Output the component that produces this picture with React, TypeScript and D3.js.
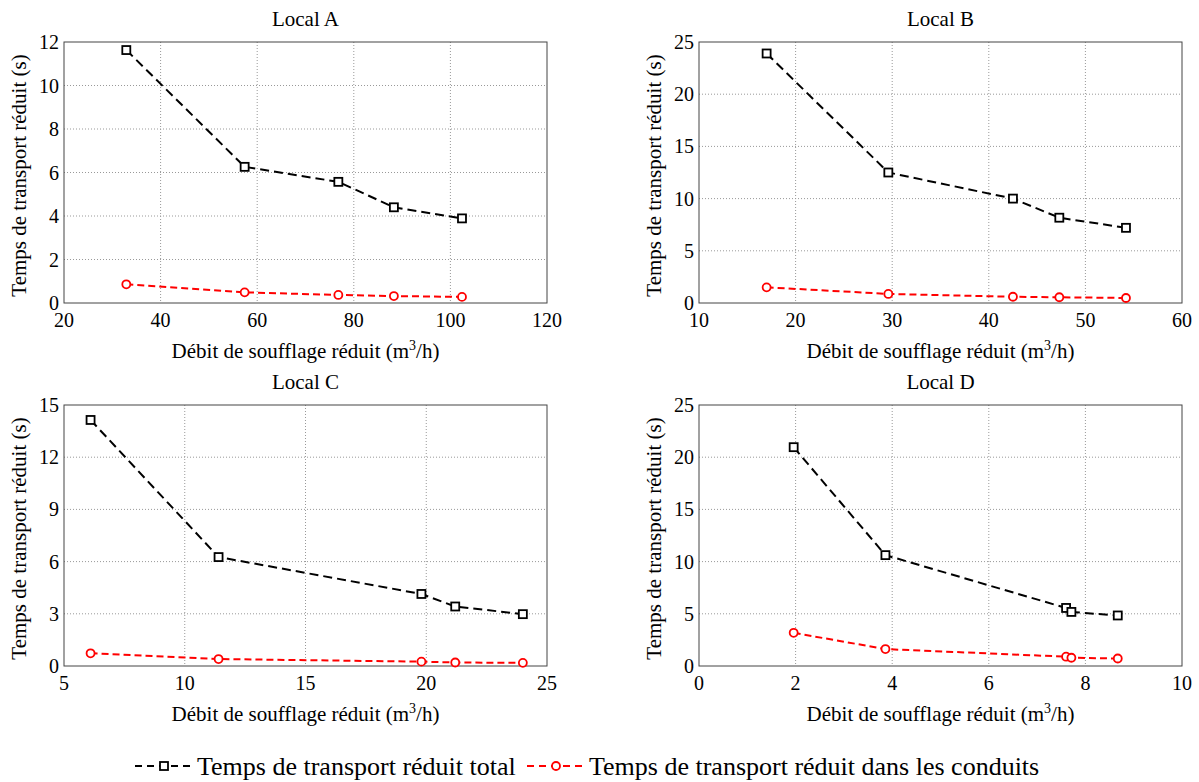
import React from "react";
import * as d3 from "d3";

const W = 1199;
const H = 782;

// Panel titles
const titles = ["Local A", "Local B", "Local C", "Local D"];

// X values (débit de soufflage réduit, m3/h)
const xA = [32.9, 57.4, 76.8, 88.3, 102.4];
const xB = [17.0, 29.6, 42.5, 47.3, 54.2];
const xC = [6.1, 11.4, 19.8, 21.2, 24.0];
const xD = [1.96, 3.86, 7.6, 7.71, 8.67];

// Temps de transport réduit total (s)
const totalA = [11.63, 6.26, 5.57, 4.4, 3.89];
const totalB = [23.9, 12.5, 10.0, 8.17, 7.2];
const totalC = [14.14, 6.26, 4.14, 3.42, 2.98];
const totalD = [20.96, 10.62, 5.56, 5.18, 4.84];

// Temps de transport réduit dans les conduits (s)
const ductA = [0.86, 0.49, 0.37, 0.32, 0.28];
const ductB = [1.5, 0.87, 0.6, 0.55, 0.48];
const ductC = [0.73, 0.4, 0.25, 0.2, 0.18];
const ductD = [3.18, 1.62, 0.89, 0.79, 0.72];

// Axis ticks
const xTicksA = [20, 40, 60, 80, 100, 120];
const yTicksA = [0, 2, 4, 6, 8, 10, 12];
const xTicksB = [10, 20, 30, 40, 50, 60];
const yTicksB = [0, 5, 10, 15, 20, 25];
const xTicksC = [5, 10, 15, 20, 25];
const yTicksC = [0, 3, 6, 9, 12, 15];
const xTicksD = [0, 2, 4, 6, 8, 10];
const yTicksD = [0, 5, 10, 15, 20, 25];

const legendLabels = [
  "Temps de transport réduit total",
  "Temps de transport réduit dans les conduits",
];

const FONT = '"Liberation Serif", "Times New Roman", Times, "DejaVu Serif", serif';
const BLACK = "#000";
const RED = "#ff0000";

type PanelProps = {
  title: string;
  left: number;
  top: number;
  xs: number[];
  total: number[];
  duct: number[];
  xTicks: number[];
  yTicks: number[];
};

const PW = 483;
const PH = 261;

function Panel({ title, left, top, xs, total, duct, xTicks, yTicks }: PanelProps) {
  const x = d3
    .scaleLinear()
    .domain([xTicks[0], xTicks[xTicks.length - 1]])
    .range([0, PW]);
  const y = d3
    .scaleLinear()
    .domain([yTicks[0], yTicks[yTicks.length - 1]])
    .range([PH, 0]);
  const line = d3
    .line<[number, number]>()
    .x((d) => x(d[0]))
    .y((d) => y(d[1]));
  const totPts: [number, number][] = xs.map((v, i) => [v, total[i]]);
  const ductPts: [number, number][] = xs.map((v, i) => [v, duct[i]]);

  return (
    <g transform={`translate(${left},${top})`}>
      {xTicks.slice(1, -1).map((t) => (
        <line
          key={"gx" + t}
          x1={x(t)}
          x2={x(t)}
          y1={0}
          y2={PH}
          stroke="#999"
          strokeWidth={1}
          strokeDasharray="1,2"
        />
      ))}
      {yTicks.slice(1, -1).map((t) => (
        <line
          key={"gy" + t}
          x1={0}
          x2={PW}
          y1={y(t)}
          y2={y(t)}
          stroke="#999"
          strokeWidth={1}
          strokeDasharray="1,2"
        />
      ))}
      <rect x={0} y={0} width={PW} height={PH} fill="none" stroke="#444" strokeWidth={1} />
      {xTicks.map((t) => (
        <text key={"tx" + t} x={x(t)} y={PH + 24} textAnchor="middle" fontSize={20}>
          {t}
        </text>
      ))}
      {yTicks.map((t) => (
        <text key={"ty" + t} x={-5} y={y(t)} dy="0.35em" textAnchor="end" fontSize={20}>
          {t}
        </text>
      ))}
      <text x={PW / 2} y={-16} textAnchor="middle" fontSize={21}>
        {title}
      </text>
      <text x={PW / 2} y={PH + 55} textAnchor="middle" fontSize={21}>
        Débit de soufflage réduit (m
        <tspan dy={-8} fontSize={14}>
          3
        </tspan>
        <tspan dy={8}>/h)</tspan>
      </text>
      <text
        transform={`translate(${-38},${PH / 2 + 3}) rotate(-90)`}
        textAnchor="middle"
        fontSize={21}
      >
        Temps de transport réduit (s)
      </text>
      <path
        d={line(totPts) || ""}
        fill="none"
        stroke={BLACK}
        strokeWidth={2}
        strokeDasharray="9,5"
      />
      <path
        d={line(ductPts) || ""}
        fill="none"
        stroke={RED}
        strokeWidth={2}
        strokeDasharray="7,4"
      />
      {totPts.map((p, i) => (
        <rect
          key={"sq" + i}
          x={x(p[0]) - 4}
          y={y(p[1]) - 4}
          width={8}
          height={8}
          fill="#fff"
          stroke={BLACK}
          strokeWidth={1.8}
        />
      ))}
      {ductPts.map((p, i) => (
        <circle
          key={"ci" + i}
          cx={x(p[0])}
          cy={y(p[1])}
          r={4}
          fill="#fff"
          stroke={RED}
          strokeWidth={1.8}
        />
      ))}
    </g>
  );
}

export default function App() {
  const panels = [
    { left: 64, top: 42, xs: xA, total: totalA, duct: ductA, xTicks: xTicksA, yTicks: yTicksA },
    { left: 699, top: 42, xs: xB, total: totalB, duct: ductB, xTicks: xTicksB, yTicks: yTicksB },
    { left: 64, top: 405, xs: xC, total: totalC, duct: ductC, xTicks: xTicksC, yTicks: yTicksC },
    { left: 699, top: 405, xs: xD, total: totalD, duct: ductD, xTicks: xTicksD, yTicks: yTicksD },
  ];

  const legY = 766;
  const l1x = 135;
  const textW1 = 322;
  const l2x = l1x + 62 + textW1 + 8;

  return (
    <svg
      width={W}
      height={H}
      viewBox={`0 0 ${W} ${H}`}
      style={{ position: "absolute", left: 0, top: 0, background: "#fff", fontFamily: FONT }}
      fill="#000"
    >
      <rect x={0} y={0} width={W} height={H} fill="#fff" />
      {panels.map((p, i) => (
        <Panel key={i} title={titles[i]} {...p} />
      ))}
      <g>
        <line x1={l1x} x2={l1x + 58} y1={legY} y2={legY} stroke={BLACK} strokeWidth={2} strokeDasharray="7,5" />
        <rect x={l1x + 25} y={legY - 4} width={8} height={8} fill="#fff" stroke={BLACK} strokeWidth={1.8} />
        <text x={l1x + 62} y={legY + 9} fontSize={26}>
          {legendLabels[0]}
        </text>
        <line x1={l2x} x2={l2x + 58} y1={legY} y2={legY} stroke={RED} strokeWidth={2} strokeDasharray="7,5" />
        <circle cx={l2x + 29} cy={legY} r={4} fill="#fff" stroke={RED} strokeWidth={1.8} />
        <text x={l2x + 62} y={legY + 9} fontSize={26}>
          {legendLabels[1]}
        </text>
      </g>
    </svg>
  );
}
